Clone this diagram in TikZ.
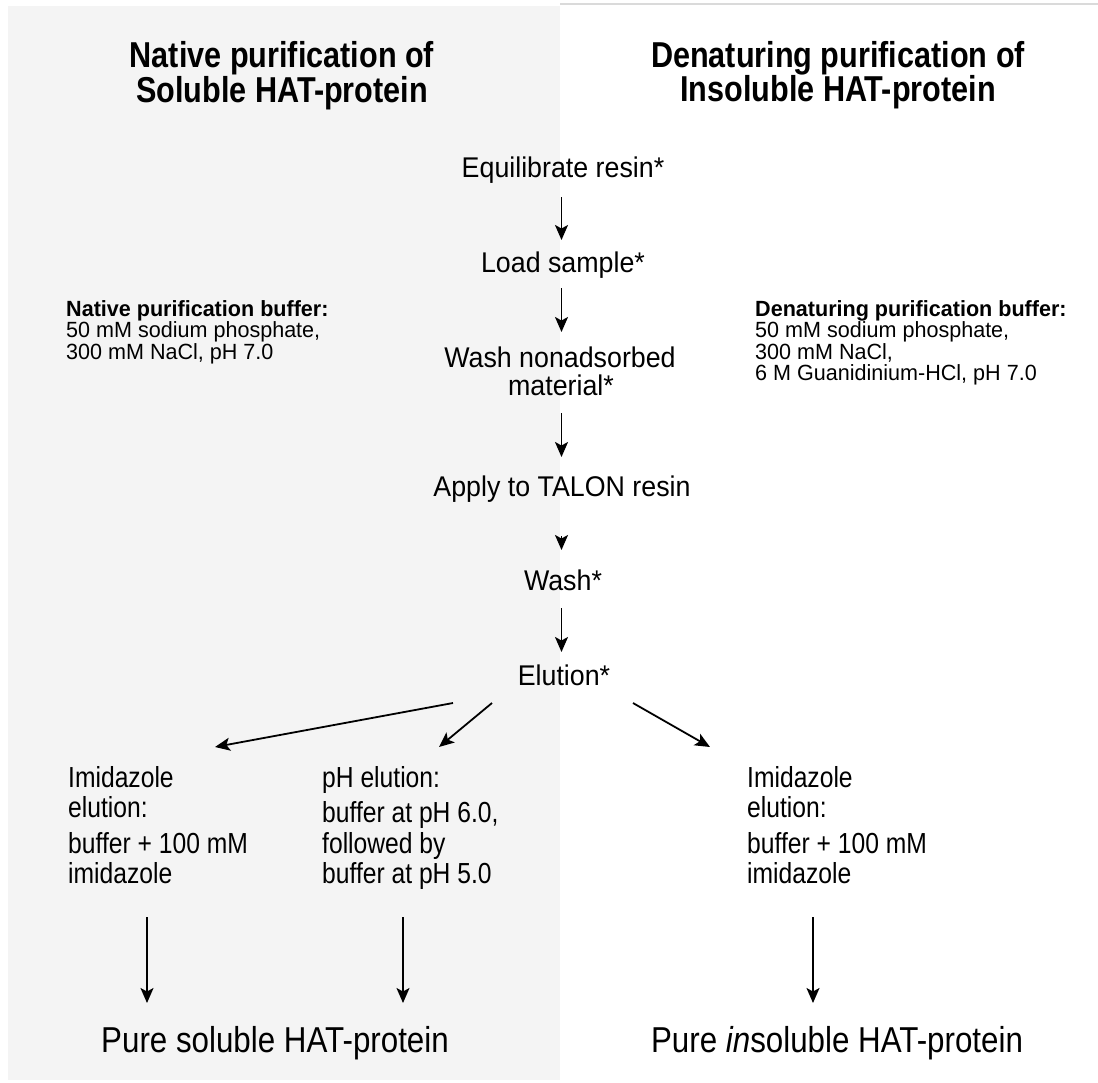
\documentclass[tikz,border=0pt]{standalone}
\usepackage{fontspec}
\setmainfont{Liberation Sans}
\newfontfamily\titlef[FakeStretch=0.85]{Liberation Sans}
\newfontfamily\resf[FakeStretch=0.87]{Liberation Sans}
\newfontfamily\stepf[FakeStretch=0.94]{Liberation Sans}
\newfontfamily\lowf[FakeStretch=0.85]{Liberation Sans}
\newfontfamily\buff[FakeStretch=0.98]{Liberation Sans}
\usetikzlibrary{arrows.meta}
\definecolor{panel}{RGB}{244,244,244}
\definecolor{topline}{RGB}{218,218,218}
\tikzset{
  title/.style={anchor=base,inner sep=0pt,font=\titlef\bfseries\fontsize{36}{36}\selectfont},
  stepbox/.style={anchor=base,inner sep=0pt,font=\stepf\fontsize{28.5}{28.5}\selectfont},
  lowtxt/.style={anchor=base west,inner sep=0pt,font=\lowf\fontsize{29}{29}\selectfont},
  bufhead/.style={anchor=base west,inner sep=0pt,font=\buff\bfseries\fontsize{22}{22}\selectfont},
  buftxt/.style={anchor=base west,inner sep=0pt,font=\buff\fontsize{22}{22}\selectfont},
  result/.style={anchor=base,inner sep=0pt,font=\resf\fontsize{36}{36}\selectfont},
  flow/.style={line width=1.8pt,-{Stealth[length=15pt,width=13pt,inset=3.5pt]}},
}
\begin{document}
\begin{tikzpicture}[x=1pt,y=-1pt]
\useasboundingbox (0,0) rectangle (1098,1082);
\fill[white] (0,0) rectangle (1098,1082);
\fill[panel] (8,6) rectangle (560,1080);
\draw[topline,line width=2pt] (560,4) -- (1098,4);

% titles
\node[title] (tl1) at (282,67) {Native purification of};
\node[title] (tl2) at (282,102) {Soluble HAT-protein};
\node[title] (tr1) at (838,67) {Denaturing purification of};
\node[title] (tr2) at (838,101) {Insoluble HAT-protein};

% buffers
\node[bufhead] (nb1) at (66,316) {Native purification buffer:};
\node[buftxt] (nb2) at (66,337.5) {50 mM sodium phosphate,};
\node[buftxt] (nb3) at (66,359) {300 mM NaCl, pH 7.0};
\node[bufhead] (db1) at (755,316) {Denaturing purification buffer:};
\node[buftxt] (db2) at (755,337.5) {50 mM sodium phosphate,};
\node[buftxt] (db3) at (755,359) {300 mM NaCl,};
\node[buftxt] (db4) at (755,380.5) {6 M Guanidinium-HCl, pH 7.0};

% steps
\node[stepbox] (s1) at (563,177) {Equilibrate resin*};
\node[stepbox] (s2) at (563,272) {Load sample*};
\node[stepbox] (s3a) at (560,367) {Wash nonadsorbed};
\node[stepbox] (s3b) at (561,395) {material*};
\node[stepbox] (s4) at (562,496) {Apply to TALON resin};
\node[stepbox] (s5) at (563,590) {Wash*};
\node[stepbox] (s6) at (564,685) {Elution*};

\coordinate (a1s) at (561.5,197); \coordinate (a1e) at (561.5,240);
\coordinate (a2s) at (561.5,288); \coordinate (a2e) at (561.5,332);
\coordinate (a3s) at (561.5,413); \coordinate (a3e) at (561.5,457);
\coordinate (a4s) at (561.5,536); \coordinate (a4e) at (561.5,550);
\coordinate (a5s) at (561.5,608); \coordinate (a5e) at (561.5,652);
\draw[flow] (a1s) -- (a1e);
\draw[flow] (a2s) -- (a2e);
\draw[flow] (a3s) -- (a3e);
\draw[flow] (a4s) -- (a4e);
\draw[flow] (a5s) -- (a5e);

% branches
\coordinate (b1s) at (453,703); \coordinate (b1e) at (215,747);
\coordinate (b2s) at (492,703); \coordinate (b2e) at (439,747);
\coordinate (b3s) at (633,703); \coordinate (b3e) at (710,747);
\draw[flow] (b1s) -- (b1e);
\draw[flow] (b2s) -- (b2e);
\draw[flow] (b3s) -- (b3e);

% lower texts
\node[lowtxt] (i1) at (68,787) {Imidazole};
\node[lowtxt] (i2) at (68,817) {elution:};
\node[lowtxt] (i3) at (68,853) {buffer + 100 mM};
\node[lowtxt] (i4) at (68,883) {imidazole};
\node[lowtxt] (p1) at (322,787) {pH elution:};
\node[lowtxt] (p2) at (322,822) {buffer at pH 6.0,};
\node[lowtxt] (p3) at (322,853) {followed by};
\node[lowtxt] (p4) at (322,883) {buffer at pH 5.0};
\node[lowtxt] (r1) at (747,787) {Imidazole};
\node[lowtxt] (r2) at (747,817) {elution:};
\node[lowtxt] (r3) at (747,853) {buffer + 100 mM};
\node[lowtxt] (r4) at (747,883) {imidazole};

\coordinate (d1s) at (147,917); \coordinate (d1e) at (147,1003);
\coordinate (d2s) at (403,917); \coordinate (d2e) at (403,1003);
\coordinate (d3s) at (813,917); \coordinate (d3e) at (813,1003);
\draw[flow] (d1s) -- (d1e);
\draw[flow] (d2s) -- (d2e);
\draw[flow] (d3s) -- (d3e);

% results
\node[result] (res1) at (275,1052) {Pure soluble HAT-protein};
\node[result] (res2) at (837,1052) {Pure \textit{in}soluble HAT-protein};
\end{tikzpicture}
\end{document}
